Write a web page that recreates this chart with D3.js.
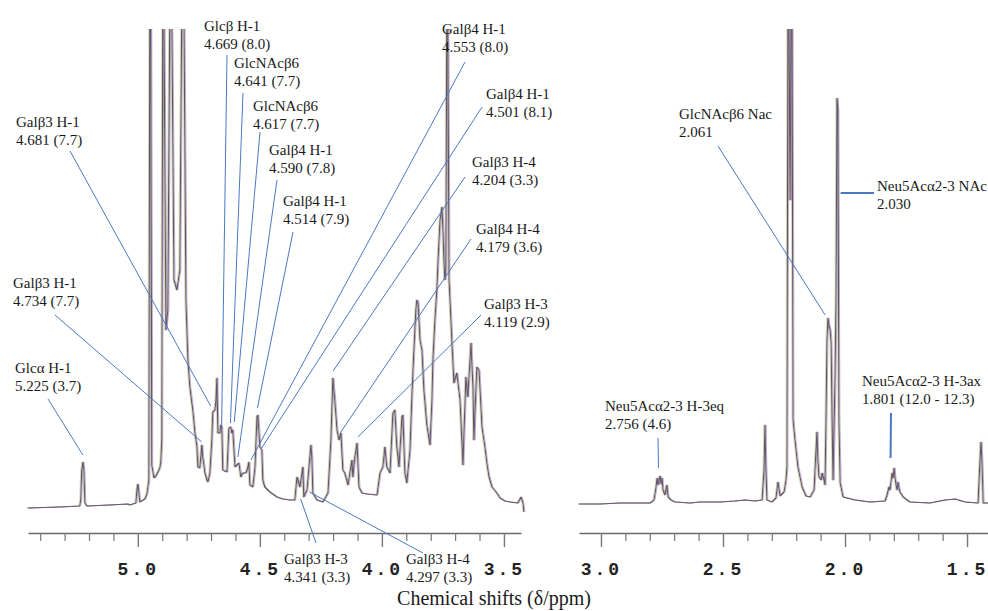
<!DOCTYPE html>
<html>
<head>
<meta charset="utf-8">
<script src="https://cdn.jsdelivr.net/npm/d3@7"></script>
<style>
  body { margin: 0; background: #ffffff; }
</style>
</head>
<body>
<svg id="chart" width="988" height="611"></svg>
<script>
// 1H NMR spectrum, two windows (sugar region and methyl region)
// shifts in ppm, intensity in arbitrary units

var leftShift = [5.451, 5.320, 5.238, 5.234, 5.230, 5.225, 5.221, 5.217, 5.209, 5.115,
    5.041, 5.033, 5.008, 5.004, 5.000, 4.996, 4.992, 4.971, 4.963, 4.955,
    4.951, 4.947, 4.943, 4.934, 4.926, 4.918, 4.910, 4.906, 4.902, 4.898,
    4.893, 4.885, 4.877, 4.869, 4.861, 4.852, 4.840, 4.828, 4.820, 4.811,
    4.803, 4.795, 4.787, 4.775, 4.766, 4.758, 4.754, 4.746, 4.738, 4.734,
    4.725, 4.717, 4.713, 4.705, 4.697, 4.693, 4.684, 4.680, 4.676, 4.672,
    4.664, 4.660, 4.656, 4.652, 4.635, 4.627, 4.619, 4.615, 4.611, 4.602,
    4.594, 4.586, 4.578, 4.570, 4.557, 4.549, 4.545, 4.541, 4.529, 4.520,
    4.512, 4.508, 4.500, 4.492, 4.488, 4.480, 4.459, 4.430, 4.406, 4.377,
    4.357, 4.348, 4.344, 4.336, 4.324, 4.320, 4.307, 4.291, 4.287, 4.283,
    4.266, 4.242, 4.221, 4.209, 4.201, 4.193, 4.184, 4.176, 4.168, 4.160,
    4.152, 4.139, 4.123, 4.119, 4.111, 4.102, 4.094, 4.082, 4.061, 4.020,
    4.008, 3.996, 3.988, 3.980, 3.967, 3.955, 3.947, 3.939, 3.930, 3.918,
    3.914, 3.906, 3.898, 3.885, 3.877, 3.869, 3.861, 3.857, 3.852, 3.844,
    3.836, 3.828, 3.816, 3.803, 3.795, 3.791, 3.783, 3.775, 3.770, 3.762,
    3.754, 3.750, 3.746, 3.742, 3.738, 3.734, 3.730, 3.725, 3.721, 3.713,
    3.705, 3.693, 3.680, 3.668, 3.656, 3.648, 3.635, 3.627, 3.623, 3.611,
    3.602, 3.590, 3.578, 3.570, 3.561, 3.549, 3.529, 3.516, 3.496, 3.475,
    3.443, 3.430, 3.422, 3.418];

var leftIntensity = [2, 3, 4, 10, 40, 48, 40, 7, 4, 5,
    6, 5, 7, 20, 26, 18, 8, 11, 16, 30,
    500, 500, 45, 32, 34, 38, 42, 48, 70, 500,
    500, 180, 200, 500, 500, 230, 220, 240, 500, 500,
    210, 150, 123, 100, 77, 63, 43, 42, 65, 53,
    37, 30, 28, 37, 70, 98, 100, 110, 132, 77,
    77, 85, 83, 40, 38, 82, 83, 77, 80, 43,
    45, 47, 33, 37, 37, 43, 48, 25, 23, 43,
    93, 95, 63, 60, 30, 23, 18, 13, 11, 10,
    10, 33, 30, 23, 43, 13, 20, 65, 53, 17,
    10, 8, 17, 70, 132, 110, 80, 70, 77, 40,
    37, 25, 50, 33, 53, 67, 23, 17, 16, 15,
    37, 43, 63, 43, 37, 97, 100, 63, 43, 93,
    95, 37, 27, 60, 115, 160, 200, 210, 208, 170,
    160, 120, 85, 65, 110, 150, 190, 220, 250, 290,
    303, 280, 250, 230, 240, 500, 500, 230, 210, 167,
    127, 137, 110, 45, 133, 113, 167, 123, 70, 143,
    140, 83, 63, 47, 33, 23, 17, 12, 9, 8,
    7, 13, 7, -2];

var rightShift = [3.090, 3.004, 2.922, 2.840, 2.799, 2.783, 2.775, 2.770, 2.766, 2.762,
    2.758, 2.754, 2.750, 2.746, 2.738, 2.730, 2.725, 2.713, 2.697, 2.635,
    2.594, 2.512, 2.451, 2.410, 2.369, 2.340, 2.332, 2.328, 2.324, 2.320,
    2.299, 2.283, 2.275, 2.266, 2.250, 2.242, 2.238, 2.234, 2.230, 2.225,
    2.221, 2.217, 2.213, 2.205, 2.193, 2.176, 2.160, 2.143, 2.127, 2.119,
    2.115, 2.111, 2.107, 2.098, 2.094, 2.086, 2.082, 2.078, 2.074, 2.070,
    2.066, 2.061, 2.057, 2.053, 2.049, 2.045, 2.041, 2.037, 2.033, 2.029,
    2.025, 2.020, 2.008, 1.992, 1.959, 1.898, 1.836, 1.828, 1.820, 1.816,
    1.807, 1.803, 1.799, 1.795, 1.791, 1.787, 1.783, 1.779, 1.775, 1.762,
    1.734, 1.652, 1.590, 1.549, 1.508, 1.455, 1.447, 1.443, 1.439, 1.434,
    1.414];

var rightIntensity = [6, 6, 7, 7, 7, 10, 22, 32, 25, 30,
    34, 26, 32, 20, 15, 25, 13, 10, 8, 7,
    8, 8, 9, 10, 9, 10, 40, 85, 40, 10,
    8, 12, 28, 14, 18, 30, 43, 500, 500, 310,
    500, 500, 90, 70, 43, 23, 14, 13, 20, 60,
    78, 50, 33, 30, 37, 30, 25, 90, 170, 192,
    185, 180, 167, 90, 30, 80, 133, 210, 412, 400,
    90, 27, 13, 12, 10, 8, 9, 15, 23, 20,
    37, 32, 42, 32, 25, 20, 28, 22, 18, 13,
    8, 7, 10, 11, 8, 7, 50, 68, 50, 7,
    7];

var leftMajor = [5.0, 4.5, 4.0, 3.5];
var leftMinor = [5.4, 5.3, 5.2, 5.1, 4.9, 4.8, 4.7, 4.6, 4.4, 4.3, 4.2, 4.1, 3.9, 3.8, 3.7, 3.6];
var rightMajor = [3.0, 2.5, 2.0, 1.5];
var rightMinor = [2.9, 2.8, 2.7, 2.6, 2.4, 2.3, 2.2, 2.1, 1.9, 1.8, 1.7, 1.6];

// assignments: residue, shift (ppm), coupling constant (Hz)
var peakNames = ["Glcα H-1", "Galβ3 H-1", "Galβ3 H-1", "Glcβ H-1", "GlcNAcβ6", "GlcNAcβ6",
    "Galβ4 H-1", "Galβ4 H-1", "Galβ4 H-1", "Galβ4 H-1", "Galβ3 H-4", "Galβ4 H-4",
    "Galβ3 H-3", "Galβ3 H-3", "Galβ3 H-4", "GlcNAcβ6 Nac", "Neu5Acα2-3 NAc",
    "Neu5Acα2-3 H-3eq", "Neu5Acα2-3 H-3ax"];
var peakShifts = [5.225, 4.734, 4.681, 4.669, 4.641, 4.617, 4.590, 4.514, 4.553, 4.501,
    4.204, 4.179, 4.119, 4.341, 4.297, 2.061, 2.030, 2.756, 1.801];
var peakCoupling = ["3.7", "7.7", "7.7", "8.0", "7.7", "7.7", "7.8", "7.9", "8.0", "8.1",
    "3.3", "3.6", "2.9", "3.3", "3.3", "", "", "4.6", "12.0 - 12.3"];

// where each label sits and how its leader line runs (pixels)
var labelLayout = [
    {lx: 15, ly: 373, sx: 48, sy: 399, dx: 0, ty: 455, w: 1},
    {lx: 13, ly: 288, sx: 55, sy: 315, dx: -1, ty: 442, w: 1},
    {lx: 16, ly: 127, sx: 70, sy: 151, dx: -5, ty: 406, w: 1},
    {lx: 204, ly: 31, sx: 227, sy: 55, dx: 3, ty: 427, w: 1},
    {lx: 234, ly: 68, sx: 243, sy: 93, dx: 5, ty: 423, w: 1},
    {lx: 253, ly: 111, sx: 260, sy: 132, dx: 3, ty: 422, w: 1},
    {lx: 269, ly: 155, sx: 277, sy: 180, dx: 0, ty: 457, w: 1},
    {lx: 283, ly: 206, sx: 293, sy: 232, dx: 1, ty: 408, w: 1},
    {lx: 442, ly: 34, sx: 465, sy: 62, dx: 4, ty: 460, w: 1},
    {lx: 486, ly: 99, sx: 482, sy: 107, dx: 2, ty: 448, w: 1},
    {lx: 472, ly: 167, sx: 465, sy: 177, dx: 1, ty: 371, w: 1},
    {lx: 476, ly: 234, sx: 471, sy: 239, dx: 2, ty: 433, w: 1},
    {lx: 484, ly: 309, sx: 481, sy: 315, dx: 5, ty: 437, w: 1},
    {lx: 284, ly: 564, sx: 316, sy: 543, dx: 2, ty: 499, w: 1},
    {lx: 406, ly: 564, sx: 423, sy: 553, dx: 0, ty: 492, w: 1},
    {lx: 679, ly: 119, sx: 718, sy: 146, dx: -5, ty: 315, w: 1},
    {lx: 877, ly: 191, sx: 874, sy: 193, dx: 3, ty: 193, w: 2},
    {lx: 605, ly: 411, sx: 658, sy: 438, dx: -2, ty: 468, w: 1},
    {lx: 862, ly: 386, sx: 891, sy: 413, dx: -3, ty: 458, w: 2}
];

var svg = d3.select("#chart");

var xLeft = d3.scaleLinear().domain([5.45, 3.43]).range([28, 521]);
var xRight = d3.scaleLinear().domain([3.09, 1.41]).range([579, 989]);
var y = d3.scaleLinear().domain([0, 480]).range([510, 30]);
var axisY = 533;

svg.append("defs")
    .append("clipPath")
    .attr("id", "plot-clip")
    .append("rect")
    .attr("x", 0)
    .attr("y", 29)
    .attr("width", 988)
    .attr("height", 582);

/**
 * Draw one spectrum trace, a grey pen with a faint purple double
 */
function drawTrace(shifts, values, x) {
    var pts = d3.zip(shifts, values);
    var line = d3.line()
        .x(function (d) { return x(d[0]); })
        .y(function (d) { return y(d[1]); });

    var g = svg.append("g").attr("clip-path", "url(#plot-clip)");

    g.append("path")
        .datum(pts)
        .attr("d", line)
        .attr("fill", "none")
        .attr("stroke", "#a6a36a")
        .attr("stroke-opacity", 0.45)
        .attr("stroke-width", 1)
        .attr("transform", "translate(-1,0)");

    g.append("path")
        .datum(pts)
        .attr("d", line)
        .attr("fill", "none")
        .attr("stroke", "#5a5a5a")
        .attr("stroke-width", 1.1)
        .attr("stroke-linejoin", "round");

    g.append("path")
        .datum(pts)
        .attr("d", line)
        .attr("fill", "none")
        .attr("stroke", "#84559a")
        .attr("stroke-opacity", 0.5)
        .attr("stroke-width", 1)
        .attr("transform", "translate(1,0)");
}

/**
 * Draw the ppm axis under one window: minor ticks every 0.1, labelled every 0.5
 */
function drawAxis(x, major, minor) {
    var minorAxis = d3.axisBottom(x)
        .tickValues(minor)
        .tickSize(8)
        .tickSizeOuter(0)
        .tickFormat("");

    var majorAxis = d3.axisBottom(x)
        .tickValues(major)
        .tickSize(14)
        .tickSizeOuter(0)
        .tickPadding(15)
        .tickFormat(d3.format(".1f"));

    var gMinor = svg.append("g")
        .attr("transform", "translate(0," + axisY + ")")
        .call(minorAxis);
    gMinor.select(".domain")
        .attr("stroke", "#6a6a6a")
        .attr("stroke-width", 1.6);
    gMinor.selectAll(".tick line")
        .attr("stroke", "#777")
        .attr("stroke-width", 1.2);

    var gMajor = svg.append("g")
        .attr("transform", "translate(0," + axisY + ")")
        .call(majorAxis);
    gMajor.select(".domain").remove();
    gMajor.selectAll(".tick line")
        .attr("stroke", "#777")
        .attr("stroke-width", 1.4);
    gMajor.selectAll(".tick text")
        .style("font-family", "'Liberation Mono', 'DejaVu Sans Mono', monospace")
        .style("font-weight", "bold")
        .style("font-size", "18px")
        .style("letter-spacing", "3px")
        .attr("fill", "#222");
}

/**
 * Draw the assignment labels with their blue leader lines
 */
function drawLabels() {
    var data = peakNames.map(function (name, i) {
        return {
            name: name,
            shift: peakShifts[i],
            coupling: peakCoupling[i],
            pos: labelLayout[i]
        };
    });

    var groups = svg.append("g")
        .attr("class", "labels")
        .selectAll(".label")
        .data(data)
        .enter()
        .append("g")
        .attr("class", "label");

    groups.append("line")
        .attr("x1", function (d) { return d.pos.sx; })
        .attr("y1", function (d) { return d.pos.sy; })
        .attr("x2", function (d) {
            var x = d.shift > 3.2 ? xLeft : xRight;
            return x(d.shift) + d.pos.dx;
        })
        .attr("y2", function (d) { return d.pos.ty; })
        .attr("stroke", "#4a78c2")
        .attr("stroke-width", function (d) { return d.pos.w; });

    var text = groups.append("text")
        .style("font-family", "'Liberation Serif', 'Times New Roman', serif")
        .style("font-size", "15px")
        .attr("fill", "#1a1a1a");

    text.append("tspan")
        .attr("x", function (d) { return d.pos.lx; })
        .attr("y", function (d) { return d.pos.ly; })
        .text(function (d) { return d.name; });

    text.append("tspan")
        .attr("x", function (d) { return d.pos.lx; })
        .attr("y", function (d) { return d.pos.ly + 18; })
        .text(function (d) {
            var s = d3.format(".3f")(d.shift);
            return d.coupling ? s + " (" + d.coupling + ")" : s;
        });
}

drawTrace(leftShift, leftIntensity, xLeft);
drawTrace(rightShift, rightIntensity, xRight);
drawAxis(xLeft, leftMajor, leftMinor);
drawAxis(xRight, rightMajor, rightMinor);
drawLabels();

svg.append("text")
    .attr("x", 494)
    .attr("y", 605)
    .attr("text-anchor", "middle")
    .style("font-family", "'Liberation Serif', 'Times New Roman', serif")
    .style("font-size", "20px")
    .attr("fill", "#1a1a1a")
    .text("Chemical shifts (δ/ppm)");
</script>
</body>
</html>
